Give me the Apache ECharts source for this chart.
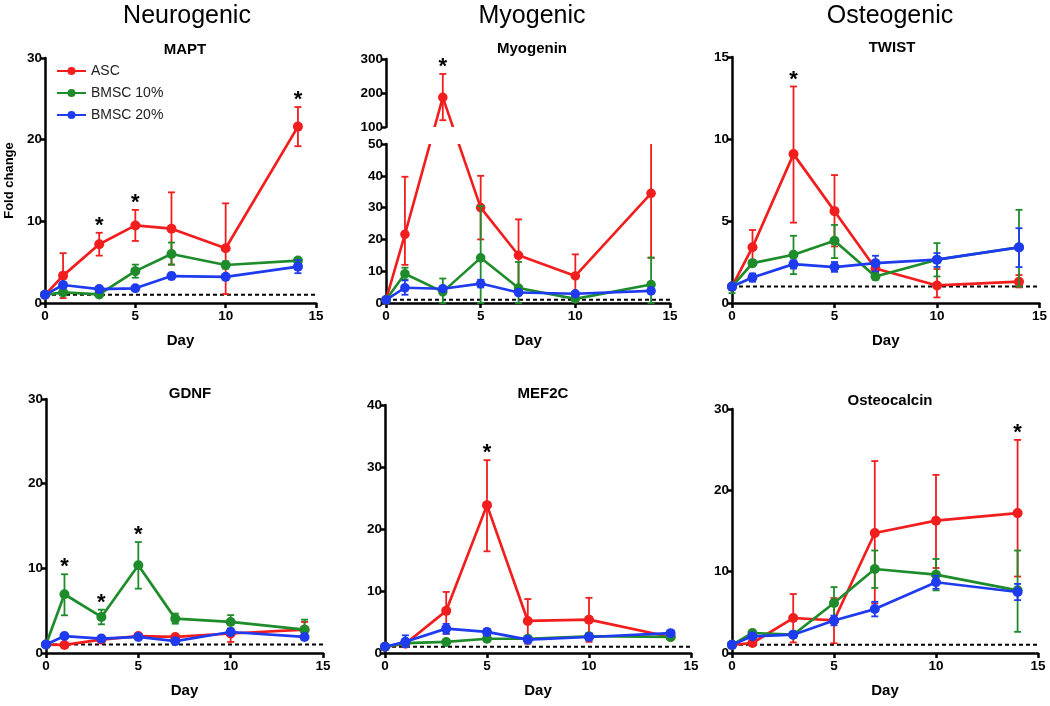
<!DOCTYPE html>
<html>
<head>
<meta charset="utf-8">
<script src="https://cdn.jsdelivr.net/npm/echarts@6/dist/echarts.min.js"></script>
<style>
html,body{margin:0;padding:0;background:#fff;}
#chart{width:1050px;height:706px;}
</style>
</head>
<body>
<div id="chart"></div>
<script>
// ---------------- DATA ----------------
const days = [0, 1, 3, 5, 7, 10, 14];
const groupNames = ['ASC', 'BMSC 10%', 'BMSC 20%'];
const columnTitles = ['Neurogenic', 'Myogenic', 'Osteogenic'];
const geneNames = ['MAPT', 'Myogenin', 'TWIST', 'GDNF', 'MEF2C', 'Osteocalcin'];
const xTicks = [0, 5, 10, 15];

// MAPT
const mapt_asc    = [1, 3.35, 7.2, 9.5, 9.1, 6.7, 21.6];
const mapt_asc_hi = [1, 6.1, 8.6, 11.4, 13.55, 12.2, 24.0];
const mapt_asc_lo = [1, 0.6, 5.8, 7.6, 4.7, 1.1, 19.2];
const mapt_b10    = [1, 1.3, 1.05, 3.9, 6.0, 4.65, 5.2];
const mapt_b10_hi = [1, 1.5, 1.2, 4.7, 7.4, 5.1, 5.5];
const mapt_b10_lo = [1, 1.1, 0.9, 3.1, 4.7, 4.2, 4.9];
const mapt_b20    = [1, 2.2, 1.7, 1.8, 3.3, 3.2, 4.45];
const mapt_b20_hi = [1, 2.5, 1.9, 2.0, 3.7, 3.4, 5.25];
const mapt_b20_lo = [1, 1.9, 1.5, 1.6, 2.9, 3.0, 3.65];
const mapt_stars  = [3, 5, 14];

// Myogenin (broken y axis: 0-50 below, 100-300 above)
const myog_asc    = [1, 21.6, 187, 30, 15, 8.5, 34.5];
const myog_asc_hi = [1, 39.7, 256, 40, 26.3, 15.3, 55];
const myog_asc_lo = [1, 12, 120, 20, 4, 1.7, 14.2];
const myog_b10    = [1, 9.2, 3.5, 14.2, 4.7, 1.3, 5.8];
const myog_b10_hi = [1, 11.1, 7.7, 30.5, 12.9, 2.0, 14.3];
const myog_b10_lo = [1, 7.4, 0, 0, 0, 0.6, 0];
const myog_b20    = [1, 4.8, 4.5, 6.1, 3.3, 2.9, 3.8];
const myog_b20_hi = [1, 7.1, 5.2, 7.3, 3.8, 3.4, 4.3];
const myog_b20_lo = [1, 2.6, 3.8, 4.9, 2.8, 2.4, 3.3];
const myog_stars  = [3];

// TWIST
const twist_asc    = [1, 3.4, 9.08, 5.6, 2.1, 1.07, 1.3];
const twist_asc_hi = [1, 4.45, 13.2, 7.8, 2.3, 2.07, 1.7];
const twist_asc_lo = [1, 2.3, 4.9, 3.45, 1.9, 0.34, 0.95];
const twist_b10    = [1, 2.43, 2.94, 3.8, 1.62, 2.64, 3.4];
const twist_b10_hi = [1, 2.6, 4.1, 4.76, 1.8, 3.65, 5.68];
const twist_b10_lo = [0.6, 2.25, 1.76, 2.74, 1.42, 1.62, 1.0];
const twist_b20    = [1, 1.56, 2.37, 2.19, 2.43, 2.64, 3.39];
const twist_b20_hi = [1, 1.8, 2.6, 2.5, 2.88, 3.04, 4.56];
const twist_b20_lo = [1, 1.3, 2.1, 1.9, 1.93, 2.2, 2.19];
const twist_stars  = [3];

// GDNF
const gdnf_asc    = [1, 0.95, 1.58, 2.0, 1.9, 2.3, 2.76];
const gdnf_asc_hi = [1, 1.05, 1.7, 2.2, 2.1, 2.9, 3.67];
const gdnf_asc_lo = [1, 0.85, 1.4, 1.8, 1.7, 1.3, 2.0];
const gdnf_b10    = [1, 6.94, 4.26, 10.37, 4.06, 3.67, 2.76];
const gdnf_b10_hi = [1, 9.3, 5.12, 13.1, 4.66, 4.47, 3.94];
const gdnf_b10_lo = [1, 4.45, 3.39, 7.6, 3.46, 2.87, 1.9];
const gdnf_b20    = [1, 2.0, 1.7, 1.9, 1.4, 2.48, 1.9];
const gdnf_b20_hi = [1, 2.2, 1.9, 2.1, 1.6, 2.7, 2.2];
const gdnf_b20_lo = [1, 1.8, 1.5, 1.7, 1.2, 2.26, 1.6];
const gdnf_stars  = [1, 3, 5];

// MEF2C
const mef2c_asc    = [1, 1.5, 6.8, 23.85, 5.17, 5.38, 2.58];
const mef2c_asc_hi = [1, 1.8, 9.85, 31.1, 8.7, 8.9, 2.8];
const mef2c_asc_lo = [1, 1.2, 3.1, 16.4, 1.5, 1.8, 2.3];
const mef2c_b10    = [1, 1.6, 1.78, 2.3, 2.3, 2.7, 2.6];
const mef2c_b10_hi = [1, 1.8, 2.0, 2.6, 2.6, 3.2, 2.8];
const mef2c_b10_lo = [1, 1.4, 1.56, 2.0, 2.0, 2.2, 2.4];
const mef2c_b20    = [1, 1.8, 3.93, 3.4, 2.15, 2.58, 3.2];
const mef2c_b20_hi = [1, 2.85, 4.7, 3.9, 2.4, 3.1, 3.5];
const mef2c_b20_lo = [1, 0.97, 3.1, 2.9, 1.9, 2.1, 2.9];
const mef2c_stars  = [5];

// Osteocalcin
const ocn_asc    = [1, 1.23, 4.3, 4.0, 14.75, 16.27, 17.2];
const ocn_asc_hi = [1, 1.4, 7.25, 6.76, 23.6, 21.9, 26.2];
const ocn_asc_lo = [1, 1.05, 1.3, 1.2, 6.1, 10.45, 9.4];
const ocn_b10    = [1, 2.46, 2.25, 6.15, 10.33, 9.63, 7.7];
const ocn_b10_hi = [1, 2.7, 2.45, 8.1, 12.6, 11.56, 12.6];
const ocn_b10_lo = [1, 2.2, 2.05, 4.2, 8.0, 7.7, 2.6];
const ocn_b20    = [1, 2.05, 2.25, 4.0, 5.4, 8.7, 7.5];
const ocn_b20_hi = [1, 2.3, 2.45, 4.6, 6.3, 9.5, 8.5];
const ocn_b20_lo = [1, 1.8, 2.05, 3.4, 4.5, 7.9, 6.5];
const ocn_stars  = [14];

const baseline = 1; // dashed reference line (fold change = 1)

// ---------------- LAYOUT / STYLE ----------------
const FONT = 'Liberation Sans, Arial, sans-serif';
const colors = ['#f21d1d', '#1e8c2a', '#1f3bf0'];

const panels = [
  {gene: 0, sets: [[mapt_asc, mapt_asc_lo, mapt_asc_hi], [mapt_b10, mapt_b10_lo, mapt_b10_hi], [mapt_b20, mapt_b20_lo, mapt_b20_hi]], stars: mapt_stars,
   grids: [{left: 45, top: 58, width: 271, height: 245, ymin: 0, ymax: 30, yint: 10, showX: true, dashed: true}], yName: 'Fold change'},
  {gene: 1, broken: true, sets: [[myog_asc, myog_asc_lo, myog_asc_hi], [myog_b10, myog_b10_lo, myog_b10_hi], [myog_b20, myog_b20_lo, myog_b20_hi]], stars: myog_stars,
   grids: [{left: 386, top: 59, width: 284, height: 68, ymin: 100, ymax: 300, yint: 100, showX: false, dashed: false, starGrid: true},
           {left: 386, top: 144, width: 284, height: 159, ymin: 0, ymax: 50, yint: 10, showX: true, dashed: true}]},
  {gene: 2, sets: [[twist_asc, twist_asc_lo, twist_asc_hi], [twist_b10, twist_b10_lo, twist_b10_hi], [twist_b20, twist_b20_lo, twist_b20_hi]], stars: twist_stars,
   grids: [{left: 732, top: 57, width: 308, height: 246, ymin: 0, ymax: 15, yint: 5, showX: true, dashed: true}]},
  {gene: 3, sets: [[gdnf_asc, gdnf_asc_lo, gdnf_asc_hi], [gdnf_b10, gdnf_b10_lo, gdnf_b10_hi], [gdnf_b20, gdnf_b20_lo, gdnf_b20_hi]], stars: gdnf_stars,
   grids: [{left: 46, top: 399, width: 277, height: 254, ymin: 0, ymax: 30, yint: 10, showX: true, dashed: true}]},
  {gene: 4, sets: [[mef2c_asc, mef2c_asc_lo, mef2c_asc_hi], [mef2c_b10, mef2c_b10_lo, mef2c_b10_hi], [mef2c_b20, mef2c_b20_lo, mef2c_b20_hi]], stars: mef2c_stars,
   grids: [{left: 385, top: 405, width: 306, height: 248, ymin: 0, ymax: 40, yint: 10, showX: true, dashed: true}]},
  {gene: 5, sets: [[ocn_asc, ocn_asc_lo, ocn_asc_hi], [ocn_b10, ocn_b10_lo, ocn_b10_hi], [ocn_b20, ocn_b20_lo, ocn_b20_hi]], stars: ocn_stars,
   grids: [{left: 732, top: 409, width: 306, height: 244, ymin: 0, ymax: 30, yint: 10, showX: true, dashed: true}]}
];
const panelTitlePos = [[180, 37], [527, 36], [887, 35], [185, 381], [538, 381], [885, 388]];
const columnTitlePos = [[182, -1], [527, -1], [885, -1]];

// ---------------- BUILD ----------------
const grid = [], xAxis = [], yAxis = [], series = [], title = [];
const axisLineStyle = {color: '#000', width: 2.5};
const labelStyle = {color: '#000', fontWeight: 'bold', fontSize: 13.5, fontFamily: FONT};
let chart = null;

function errRenderer(color) {
  return function (params, api) {
    const x = api.value(0), lo = api.value(1), hi = api.value(2);
    const cs = params.coordSys;
    const pLo = api.coord([x, lo]), pHi = api.coord([x, hi]);
    const top = cs.y, bottom = cs.y + cs.height;
    const y1 = Math.max(pHi[1], top), y2 = Math.min(pLo[1], bottom);
    if (y1 >= y2 - 0.5) return null;
    const px = pLo[0];
    const st = {stroke: color, lineWidth: 1.8};
    const ch = [{type: 'line', shape: {x1: px, y1: y1, x2: px, y2: y2}, style: st}];
    const cw = 3.5;
    if (pHi[1] >= top) ch.push({type: 'line', shape: {x1: px - cw, y1: pHi[1], x2: px + cw, y2: pHi[1]}, style: st});
    if (pLo[1] <= bottom) ch.push({type: 'line', shape: {x1: px - cw, y1: pLo[1], x2: px + cw, y2: pLo[1]}, style: st});
    return {type: 'group', children: ch};
  };
}

function starRenderer(params, api) {
  const p = api.coord([api.value(0), api.value(1)]);
  return {type: 'text', x: p[0], y: p[1] - 7,
    style: {text: '*', fontSize: 22, fontWeight: 'bold', fontFamily: FONT, fill: '#000', align: 'center', verticalAlign: 'middle'}};
}

// Line across a broken axis: lower grid for values <= lowerMax, upper grid above the break.
function brokenLineRenderer(color, upperIdx, lowerIdx, lowerMax) {
  return function (params, api) {
    const toPx = (d, v) => v > lowerMax
      ? chart.convertToPixel({xAxisIndex: upperIdx, yAxisIndex: upperIdx}, [d, v])
      : api.coord([d, v]);
    const cs = params.coordSys;
    const uTL = chart.convertToPixel({xAxisIndex: upperIdx, yAxisIndex: upperIdx}, [0, 300]);
    const uBR = chart.convertToPixel({xAxisIndex: upperIdx, yAxisIndex: upperIdx}, [15, 100]);
    const p0 = toPx(api.value(0), api.value(1));
    const children = [];
    const nd = api.value(2), nv = api.value(3);
    if (!isNaN(nd) && nd !== null && nd !== '-' ) {
      const p1 = toPx(nd, nv);
      const seg = {type: 'line', shape: {x1: p0[0], y1: p0[1], x2: p1[0], y2: p1[1]},
        style: {stroke: color, lineWidth: 2.6, lineCap: 'round'}};
      children.push({type: 'group', children: [seg],
        clipPath: {type: 'rect', shape: {x: cs.x - 10, y: cs.y, width: cs.width + 20, height: cs.height + 10}}});
      children.push({type: 'group', children: [Object.assign({}, seg, {shape: Object.assign({}, seg.shape)})],
        clipPath: {type: 'rect', shape: {x: uTL[0] - 10, y: uTL[1] - 10, width: uBR[0] - uTL[0] + 20, height: uBR[1] - uTL[1] + 10}}});
    }
    children.push({type: 'circle', shape: {cx: p0[0], cy: p0[1], r: 4.8}, style: {fill: color}});
    return {type: 'group', children: children};
  };
}

panels.forEach((pn, pi) => {
  title.push({text: geneNames[pn.gene], left: panelTitlePos[pi][0], top: panelTitlePos[pi][1], textAlign: 'center',
    textStyle: {fontSize: 15, fontWeight: 'bold', fontFamily: FONT, color: '#000'}});
  const gridIdx = [];
  pn.grids.forEach((g, gi) => {
    const idx = grid.length;
    gridIdx.push(idx);
    grid.push({left: g.left, top: g.top, width: g.width, height: g.height, containLabel: false});
    xAxis.push({type: 'value', gridIndex: idx, min: 0, max: 15, interval: 5, show: g.showX,
      name: g.showX ? 'Day' : '', nameLocation: 'middle', nameGap: 30,
      nameTextStyle: {fontSize: 15, fontWeight: 'bold', fontFamily: FONT, color: '#000'},
      axisLine: {show: true, onZero: false, lineStyle: axisLineStyle},
      axisTick: {show: true, inside: false, length: 5, lineStyle: {color: '#000', width: 2.5}},
      axisLabel: Object.assign({margin: 6, formatter: v => xTicks.includes(v) ? String(v) : ''}, labelStyle),
      splitLine: {show: false}});
    yAxis.push({type: 'value', gridIndex: idx, min: g.ymin, max: g.ymax, interval: g.yint,
      name: (pn.yName && gi === 0) ? pn.yName : '', nameLocation: 'middle', nameGap: 29, nameRotate: 90,
      nameTextStyle: {fontSize: 13, fontWeight: 'bold', fontFamily: FONT, color: '#000'},
      axisLine: {show: true, onZero: false, lineStyle: axisLineStyle},
      axisTick: {show: true, inside: false, length: 5, lineStyle: {color: '#000', width: 2.5}},
      axisLabel: Object.assign({margin: 3}, labelStyle),
      splitLine: {show: false}});
    if (g.dashed) {
      series.push({type: 'line', xAxisIndex: idx, yAxisIndex: idx, data: [[0, baseline], [15, baseline]],
        symbol: 'none', silent: true, z: 1,
        lineStyle: {color: '#000', width: 2, type: [4, 3]}});
    }
    pn.sets.forEach((set, si) => {
      const [mean, lo, hi] = set;
      series.push({type: 'custom', name: 'err ' + groupNames[si], xAxisIndex: idx, yAxisIndex: idx, z: 2 + si * 2,
        renderItem: errRenderer(colors[si]), silent: true,
        data: days.map((d, j) => [d, lo[j], hi[j]])});
      if (!pn.broken) {
        series.push({type: 'line', name: groupNames[si], xAxisIndex: idx, yAxisIndex: idx, z: 3 + si * 2,
          data: days.map((d, j) => [d, mean[j]]), clip: true,
          symbol: 'circle', symbolSize: 10, showSymbol: true,
          itemStyle: {color: colors[si]}, lineStyle: {color: colors[si], width: 2.7}});
      }
    });
    if ((pn.grids.length === 1) || g.starGrid) {
      const starData = pn.stars.map(d => {
        const j = days.indexOf(d);
        return [d, Math.max(...pn.sets.map(s => s[2][j]))];
      });
      series.push({type: 'custom', name: 'stars', xAxisIndex: idx, yAxisIndex: idx, z: 10, silent: true,
        renderItem: starRenderer, data: starData, clip: false});
    }
  });
  if (pn.broken) {
    const upperIdx = gridIdx[0], lowerIdx = gridIdx[1];
    const lowerMax = pn.grids[1].ymax;
    pn.sets.forEach((set, si) => {
      const mean = set[0];
      series.push({type: 'custom', name: 'line ' + groupNames[si], xAxisIndex: lowerIdx, yAxisIndex: lowerIdx,
        z: 3 + si * 2, silent: true, clip: false,
        renderItem: brokenLineRenderer(colors[si], upperIdx, lowerIdx, lowerMax),
        data: days.map((d, j) => [d, mean[j], j < days.length - 1 ? days[j + 1] : NaN, j < days.length - 1 ? mean[j + 1] : NaN])});
    });
  }
});

columnTitles.forEach((t, i) => {
  title.push({text: t, left: columnTitlePos[i][0], top: columnTitlePos[i][1], textAlign: 'center',
    textStyle: {fontSize: 25, fontWeight: 'normal', fontFamily: FONT, color: '#000'}});
});

chart = echarts.init(document.getElementById('chart'), null, {renderer: 'canvas'});
chart.setOption({
  animation: false,
  backgroundColor: '#fff',
  title: title,
  grid: grid,
  xAxis: xAxis,
  yAxis: yAxis,
  legend: {data: groupNames, orient: 'vertical', left: 51, top: 59, itemWidth: 29, itemHeight: 10, itemGap: 8,
    textStyle: {fontSize: 14, fontFamily: FONT, color: '#222'}},
  series: series
});
</script>
</body>
</html>
